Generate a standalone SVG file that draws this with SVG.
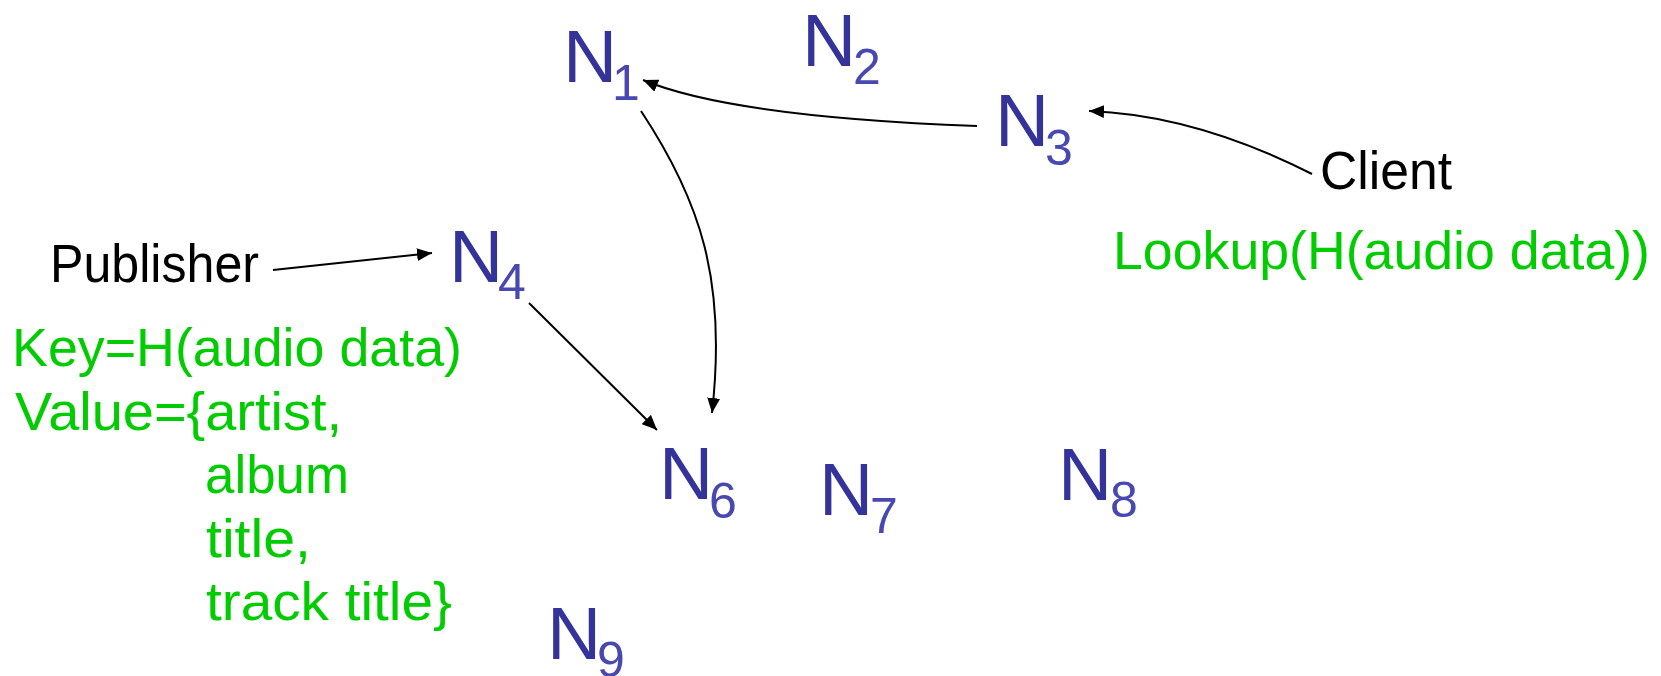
<svg xmlns="http://www.w3.org/2000/svg" width="1661" height="676" viewBox="0 0 1661 676">
<style>
.n{font-family:"Liberation Sans",Arial,sans-serif;font-size:75px;fill:#333399}
.s{font-size:50px;fill:#4848B0}
.b{font-family:"Liberation Sans",Arial,sans-serif;font-size:54px;fill:#000}
.g{font-family:"Liberation Sans",Arial,sans-serif;font-size:54px;fill:#00CC00}
.c{fill:none;stroke:#000;stroke-width:2}
</style>
<defs>
<marker id="ah" viewBox="0 0 15 13" refX="15" refY="6.5" markerWidth="15" markerHeight="13" markerUnits="userSpaceOnUse" orient="auto">
<path d="M0,0 L15,6.5 L0,13 z" fill="#000"/>
</marker>
</defs>
<rect width="1661" height="676" fill="#fff"/>
<g id="connectors">
<path class="c" d="M977,126 C870,122 720,112 643,80" marker-end="url(#ah)"/>
<path class="c" d="M641,111 C700,200 727,280 712,413" marker-end="url(#ah)"/>
<path class="c" d="M529,303 L657,430" marker-end="url(#ah)"/>
<path class="c" d="M273,270 L432,253" marker-end="url(#ah)"/>
<path class="c" d="M1312,174 C1245,140 1170,114 1089,111" marker-end="url(#ah)"/>
</g>
<g id="N1"><text class="n" x="563" y="82">N<tspan class="s" x="612" y="100">1</tspan></text></g>
<g id="N2"><text class="n" x="802" y="66">N<tspan class="s" x="853" y="84">2</tspan></text></g>
<g id="N3"><text class="n" x="995" y="146">N<tspan class="s" x="1045" y="165">3</tspan></text></g>
<g id="N4"><text class="n" x="449" y="282">N<tspan class="s" x="498" y="299">4</tspan></text></g>
<g id="N6"><text class="n" x="659" y="499">N<tspan class="s" x="709" y="518">6</tspan></text></g>
<g id="N7"><text class="n" x="819" y="515">N<tspan class="s" x="870" y="533">7</tspan></text></g>
<g id="N8"><text class="n" x="1058" y="500">N<tspan class="s" x="1110" y="517">8</tspan></text></g>
<g id="N9"><text class="n" x="547" y="659">N<tspan class="s" x="597" y="677">9</tspan></text></g>
<g id="Publisher"><text class="b" x="50" y="282" textLength="209" lengthAdjust="spacingAndGlyphs">Publisher</text></g>
<g id="Client"><text class="b" x="1320" y="189" textLength="132" lengthAdjust="spacingAndGlyphs">Client</text></g>
<g id="publish-note">
<text class="g" x="12" y="366" textLength="450" lengthAdjust="spacingAndGlyphs">Key=H(audio data)</text>
<text class="g" x="15" y="430" textLength="327" lengthAdjust="spacingAndGlyphs">Value={artist,</text>
<text class="g" x="205" y="493" textLength="144" lengthAdjust="spacingAndGlyphs">album</text>
<text class="g" x="206" y="557" textLength="105" lengthAdjust="spacingAndGlyphs">title,</text>
<text class="g" x="206" y="620" textLength="246" lengthAdjust="spacingAndGlyphs">track title}</text>
</g>
<g id="lookup-note"><text class="g" x="1113" y="269" textLength="537" lengthAdjust="spacingAndGlyphs">Lookup(H(audio data))</text></g>
</svg>
